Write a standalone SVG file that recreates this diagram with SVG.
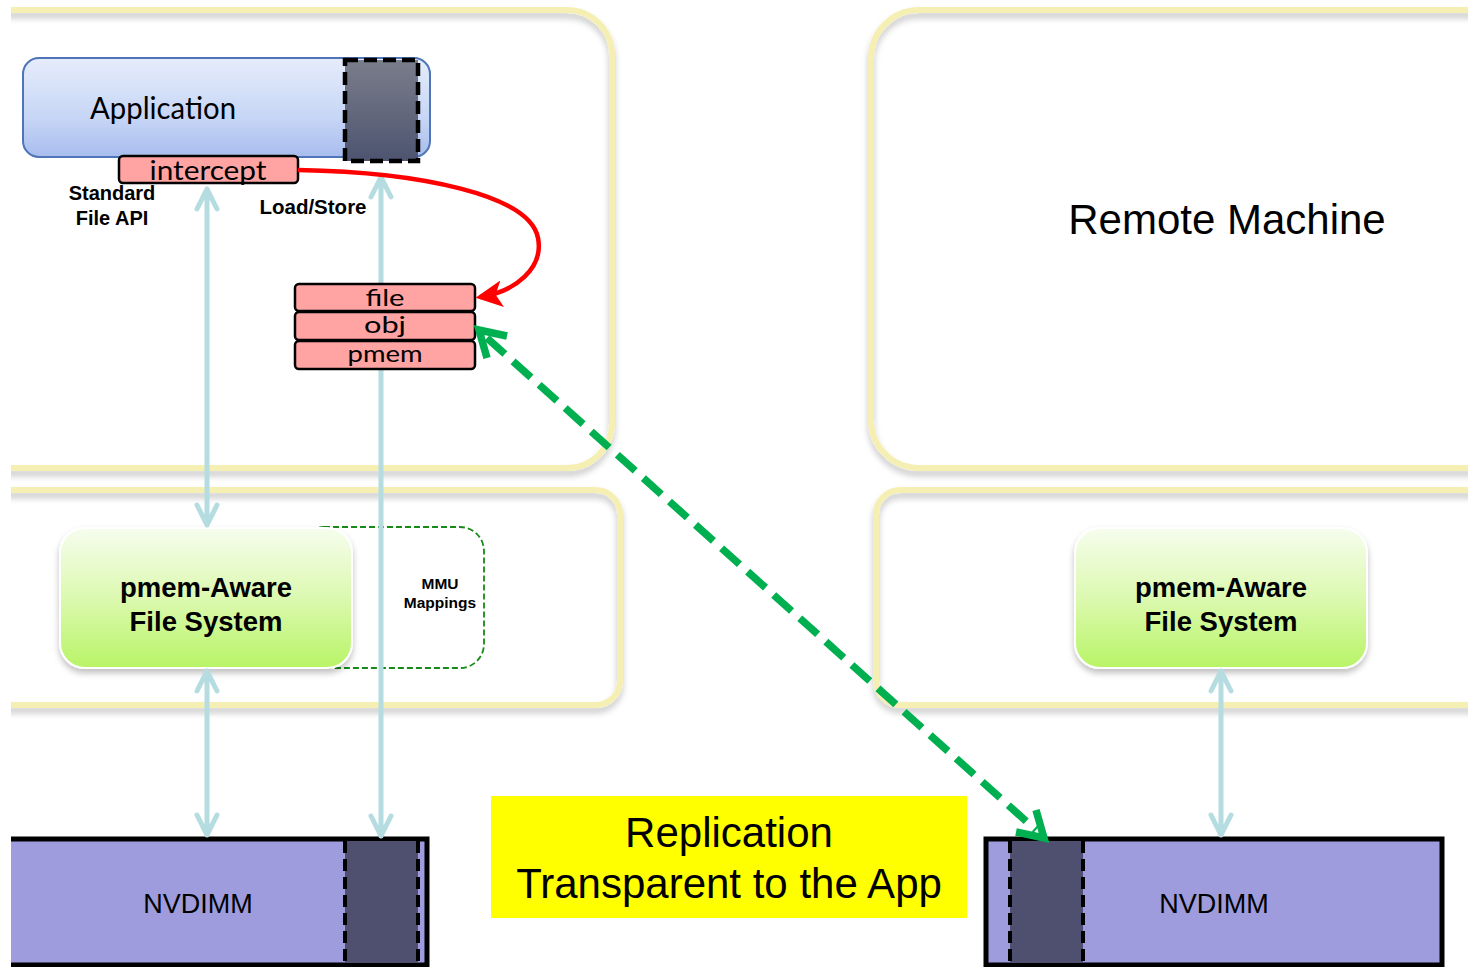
<svg xmlns="http://www.w3.org/2000/svg" width="1468" height="967" viewBox="0 0 1468 967">
<style>
.cont{fill:none;stroke:#f6efb4;stroke-width:6;filter:url(#sh)}
.blue{stroke:#b5dde1;stroke-width:5;fill:none;stroke-linecap:round;stroke-linejoin:round}
.pink{fill:#ffa3a3;stroke:#000;stroke-width:2.5}
.gill{font-family:Lato,"Open Sans",sans-serif;fill:#000}
.bold{font-family:"Liberation Sans",Arial,sans-serif;font-weight:bold;fill:#000}
.reg{font-family:"Liberation Sans",Arial,sans-serif;fill:#000}
.fs{fill:url(#gfs);stroke:#fff;stroke-width:2;filter:url(#sh2)}
.nv{fill:#9e9cdc;stroke:#000;stroke-width:5}
.dk{fill:#4f5070}
.dash{stroke:#000;stroke-width:4;stroke-dasharray:12,6}
.green{stroke:#00b050;stroke-width:7.5;fill:none}
</style>
<defs>
<filter id="sh" x="-10%" y="-10%" width="120%" height="130%"><feDropShadow dx="0" dy="5" stdDeviation="3" flood-color="#000" flood-opacity="0.22"/></filter>
<filter id="sh2" x="-10%" y="-10%" width="120%" height="130%"><feDropShadow dx="0" dy="4" stdDeviation="3" flood-color="#000" flood-opacity="0.25"/></filter>
<linearGradient id="gapp" x1="0" y1="0" x2="0" y2="1"><stop offset="0" stop-color="#e6edfb"/><stop offset="0.6" stop-color="#c7d6f6"/><stop offset="1" stop-color="#a8bdee"/></linearGradient>
<linearGradient id="gdk" x1="0" y1="0" x2="0" y2="1"><stop offset="0" stop-color="#7a7d8a"/><stop offset="1" stop-color="#4d5470"/></linearGradient>
<linearGradient id="gfs" x1="0" y1="0" x2="0" y2="1"><stop offset="0" stop-color="#f6fdee"/><stop offset="0.5" stop-color="#dcf9b0"/><stop offset="1" stop-color="#b8f466"/></linearGradient>
<clipPath id="clipL"><rect x="11" y="0" width="1457" height="967"/></clipPath>
<marker id="redhead" viewBox="0 0 12 12" refX="10" refY="6" markerWidth="6" markerHeight="6" orient="auto" markerUnits="strokeWidth"><path d="M0,0 L12,6 L0,12 L3,6 Z" fill="#ff0000"/></marker>
</defs>

<g id="containers">
<g clip-path="url(#clipL)">
<rect class="cont" x="-40" y="10" width="652" height="458" rx="45"/>
<rect class="cont" x="-40" y="490" width="660" height="215" rx="24"/>
</g>
<rect class="cont" x="871" y="10" width="660" height="458" rx="48"/>
<rect class="cont" x="876" y="490" width="660" height="215" rx="24"/>
</g>

<g id="remote-label">
<text class="reg" x="1227" y="234" font-size="42" text-anchor="middle">Remote Machine</text>
</g>

<g id="mmu">
<rect x="300" y="527" width="184" height="141" rx="24" fill="none" stroke="#178a17" stroke-width="1.8" stroke-dasharray="6,3"/>
<text class="bold" x="440" y="589" font-size="15.5" text-anchor="middle">MMU</text>
<text class="bold" x="440" y="608" font-size="15.5" text-anchor="middle">Mappings</text>
</g>

<g id="fs-left">
<rect class="fs" x="60" y="528" width="292" height="140" rx="25"/>
<text class="bold" x="206" y="597" font-size="27.5" text-anchor="middle">pmem-Aware</text>
<text class="bold" x="206" y="631" font-size="27.5" text-anchor="middle">File System</text>
</g>

<g id="fs-right">
<rect class="fs" x="1075" y="528" width="292" height="140" rx="25"/>
<text class="bold" x="1221" y="597" font-size="27.5" text-anchor="middle">pmem-Aware</text>
<text class="bold" x="1221" y="631" font-size="27.5" text-anchor="middle">File System</text>
</g>

<g id="nvdimm-left" clip-path="url(#clipL)">
<rect class="nv" x="-20" y="839" width="447" height="126"/>
<rect class="dk" x="345" y="841" width="73" height="122"/>
<line class="dash" x1="345" y1="841" x2="345" y2="963"/>
<line class="dash" x1="418" y1="841" x2="418" y2="963"/>
<text class="reg" x="198" y="913" font-size="27" text-anchor="middle">NVDIMM</text>
</g>

<g id="nvdimm-right">
<rect class="nv" x="986" y="839" width="456" height="126"/>
<rect class="dk" x="1010" y="841" width="73" height="122"/>
<line class="dash" x1="1010" y1="841" x2="1010" y2="963"/>
<line class="dash" x1="1083" y1="841" x2="1083" y2="963"/>
<text class="reg" x="1214" y="913" font-size="27" text-anchor="middle">NVDIMM</text>
</g>

<g id="replication">
<rect x="491" y="796" width="476" height="122" fill="#ffff00"/>
<text class="reg" x="729" y="847" font-size="42" text-anchor="middle">Replication</text>
<text class="reg" x="729" y="898" font-size="42" text-anchor="middle">Transparent to the App</text>
</g>

<g id="connectors">
<path class="blue" d="M207,189 V525 M197,209 L207,189 L217,209 M197,505 L207,525 L217,505"/>
<path class="blue" d="M207,671 V835 M197,691 L207,671 L217,691 M197,815 L207,835 L217,815"/>
<path class="blue" d="M381,177 V836 M371,197 L381,177 L391,197 M371,816 L381,836 L391,816"/>
<path class="blue" d="M1221,671 V835 M1211,691 L1221,671 L1231,691 M1211,815 L1221,835 L1231,815"/>
</g>

<g id="application">
<rect x="23" y="58" width="407" height="99" rx="16" fill="url(#gapp)" stroke="#4f74b8" stroke-width="2"/>
<rect x="345" y="60" width="73" height="101" fill="url(#gdk)"/>
<rect x="345" y="60" width="73" height="101" fill="none" stroke="#000" stroke-width="4.5" stroke-dasharray="13,6"/>
<text class="gill" x="163" y="119" font-size="30" text-anchor="middle" textLength="146" lengthAdjust="spacingAndGlyphs">Application</text>
</g>

<g id="intercept">
<rect class="pink" x="119" y="156" width="179" height="27" rx="4"/>
<text class="gill" x="208" y="180" font-size="26" text-anchor="middle" textLength="117" lengthAdjust="spacingAndGlyphs">intercept</text>
</g>

<g id="labels">
<text class="bold" x="112" y="200" font-size="20" text-anchor="middle">Standard</text>
<text class="bold" x="112" y="225" font-size="20" text-anchor="middle">File API</text>
<text class="bold" x="313" y="214" font-size="20.5" text-anchor="middle">Load/Store</text>
</g>

<g id="stack">
<rect class="pink" x="295" y="284" width="180" height="27" rx="4"/>
<text class="gill" x="385" y="306" font-size="23" text-anchor="middle" textLength="39" lengthAdjust="spacingAndGlyphs">file</text>
<rect class="pink" x="295" y="312" width="180" height="28" rx="4"/>
<text class="gill" x="385" y="333" font-size="23" text-anchor="middle" textLength="42" lengthAdjust="spacingAndGlyphs">obj</text>
<rect class="pink" x="295" y="341" width="180" height="28" rx="4"/>
<text class="gill" x="385" y="362" font-size="23" text-anchor="middle" textLength="75" lengthAdjust="spacingAndGlyphs">pmem</text>
</g>

<g id="connectors-top">
<path d="M298,170 C 420,172 530,195 538,238 C 544,268 515,292 480,297" fill="none" stroke="#ff0000" stroke-width="4.5" marker-end="url(#redhead)"/>
<line class="green" x1="487" y1="338" x2="1036" y2="830" stroke-dasharray="24,11"/>
<polyline class="green" points="507,336 479,330 487,358" stroke-linejoin="miter"/>
<polyline class="green" points="1016,832 1044,838 1036,810" stroke-linejoin="miter"/>
</g>
</svg>
